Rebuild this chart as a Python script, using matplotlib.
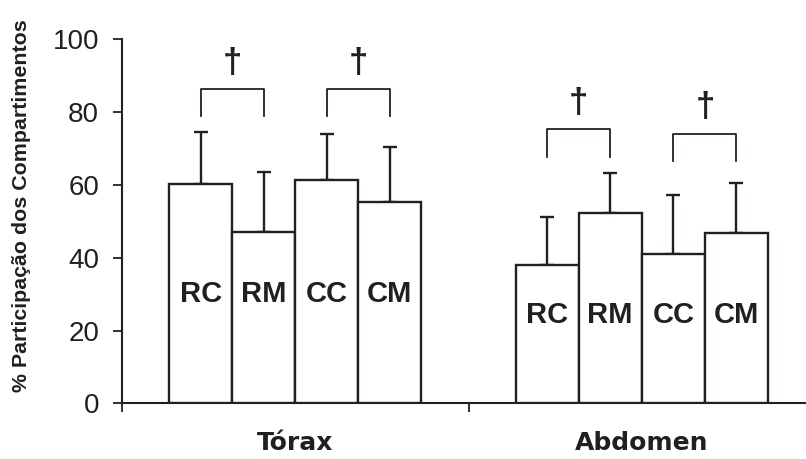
import matplotlib.pyplot as plt
import numpy as np

# Data
groups = ['Tórax', 'Abdomen']
bar_labels = ['RC', 'RM', 'CC', 'CM']
torax_mean = [60.2, 47.0, 61.4, 55.2]
torax_sd = [14.2, 16.5, 12.7, 15.2]
abdomen_mean = [38.0, 52.2, 40.9, 46.7]
abdomen_sd = [13.3, 11.0, 16.3, 13.7]
# significance brackets: (group, bar a, bar b, top, bottom)
brackets = [(0, 0, 1, 86.3, 78.8), (0, 2, 3, 86.3, 78.8),
            (1, 0, 1, 75.3, 67.8), (1, 2, 3, 74.1, 66.7)]

INK = '#231f20'
W = 0.182
offsets = (np.arange(4) - 1.5) * W
label_y = [30.0, 24.3]

fig = plt.figure(figsize=(8.06, 4.59), dpi=100)
ax = fig.add_axes([0.1514, 0.1213, 0.8598, 0.7931])

means = [torax_mean, abdomen_mean]
sds = [torax_sd, abdomen_sd]
for g in range(2):
    x = g + offsets
    ax.bar(x, means[g], width=W, color='white', edgecolor=INK, linewidth=1.7, zorder=3)
    ax.errorbar(x, means[g], yerr=[np.zeros(4), sds[g]], fmt='none', ecolor=INK,
                elinewidth=1.7, capsize=4.7, capthick=1.7, zorder=2)
    for xi, lab in zip(x, bar_labels):
        ax.text(xi, label_y[g], lab, ha='center', va='center', fontsize=21,
                fontweight='bold', family='Liberation Sans', color=INK, zorder=4)

for g, a, b, top, bot in brackets:
    xa, xb = g + offsets[a], g + offsets[b]
    ax.plot([xa, xa, xb, xb], [bot, top, top, bot], color=INK, lw=1.3, clip_on=False)
    ax.text((xa + xb) / 2, top + 2.6, '†', ha='center', va='bottom', fontsize=25,
            fontweight='bold', family='Liberation Sans', color=INK)

ax.set_xlim(-0.5, 1.5)
ax.set_ylim(0, 100)
ax.set_yticks([0, 20, 40, 60, 80, 100])
ax.set_xticks([-0.5, 0.5, 1.5])
ax.set_xticklabels([])
ax.set_xticks([0, 1], minor=True)
ax.set_xticklabels(groups, minor=True)
ax.tick_params(axis='x', which='minor', length=0, pad=20)
ax.tick_params(axis='x', which='major', direction='out', length=6.5, width=1.3, color=INK)
ax.tick_params(axis='y', direction='out', length=6.5, width=1.3, color=INK, pad=10,
               labelsize=20, labelcolor=INK)
for t in ax.get_yticklabels():
    t.set_family('Liberation Sans')
for t in ax.get_xticklabels(minor=True):
    t.set_fontsize(18)
    t.set_fontweight('bold')
    t.set_family('DejaVu Sans')
    t.set_color(INK)

for s in ['top', 'right']:
    ax.spines[s].set_visible(False)
for s in ['left', 'bottom']:
    ax.spines[s].set_linewidth(1.5)
    ax.spines[s].set_color(INK)

fig.text(22 / 806, 0.551, '% Participação dos Compartimentos', rotation=90,
         ha='center', va='center', fontsize=15.4, fontweight='bold',
         family='Liberation Sans', color=INK)

fig.savefig('out.png', dpi=100)
